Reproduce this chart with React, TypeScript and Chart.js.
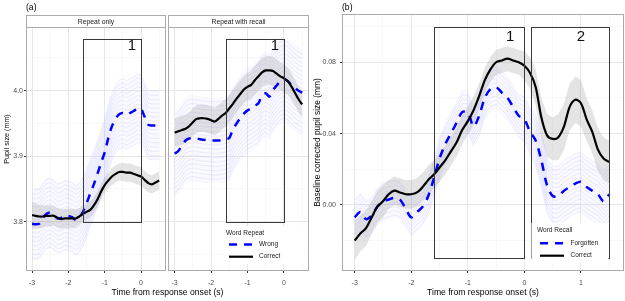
import React, { useEffect, useRef } from "react";
import { Chart, registerables } from "chart.js";
Chart.register(...registerables);

const FONT = "'Liberation Sans', Arial, Helvetica, sans-serif";

// ---------- data ----------
const timeA = [-3.0, -2.9, -2.8, -2.7, -2.6, -2.5, -2.4, -2.3, -2.2, -2.1, -2.0, -1.9, -1.8, -1.7, -1.6, -1.5, -1.4, -1.3, -1.2, -1.1, -1.0, -0.9, -0.8, -0.7, -0.6, -0.5, -0.4, -0.3, -0.2, -0.1, 0.0, 0.1, 0.2, 0.3, 0.4, 0.5];
const timeB = [-3.0, -2.9, -2.8, -2.7, -2.6, -2.5, -2.4, -2.3, -2.2, -2.1, -2.0, -1.9, -1.8, -1.7, -1.6, -1.5, -1.4, -1.3, -1.2, -1.1, -1.0, -0.9, -0.8, -0.7, -0.6, -0.5, -0.4, -0.3, -0.2, -0.1, 0.0, 0.1, 0.2, 0.3, 0.4, 0.5, 0.6, 0.7, 0.8, 0.9, 1.0, 1.1, 1.2, 1.3, 1.4, 1.5];

// Panel (a) "Repeat only"
const repeatOnlyCorrect = [3.810, 3.809, 3.808, 3.808, 3.809, 3.809, 3.809, 3.806, 3.804, 3.805, 3.805, 3.805, 3.805, 3.808, 3.812, 3.815, 3.818, 3.825, 3.834, 3.846, 3.856, 3.863, 3.869, 3.873, 3.876, 3.876, 3.875, 3.875, 3.873, 3.871, 3.869, 3.864, 3.859, 3.857, 3.860, 3.863];
const repeatOnlyCorrectCI = [0.020, 0.019, 0.018, 0.017, 0.016, 0.016, 0.015, 0.015, 0.015, 0.015, 0.015, 0.015, 0.014, 0.013, 0.012, 0.012, 0.012, 0.012, 0.012, 0.012, 0.012, 0.012, 0.013, 0.013, 0.013, 0.014, 0.014, 0.014, 0.014, 0.014, 0.014, 0.014, 0.014, 0.014, 0.014, 0.014];
const repeatOnlyWrong = [3.797, 3.796, 3.797, 3.806, 3.812, 3.814, 3.810, 3.805, 3.806, 3.810, 3.809, 3.807, 3.803, 3.806, 3.815, 3.828, 3.843, 3.857, 3.873, 3.890, 3.906, 3.928, 3.946, 3.957, 3.964, 3.966, 3.963, 3.966, 3.969, 3.973, 3.972, 3.960, 3.948, 3.947, 3.947, 3.947];
const repeatOnlyWrongCI = [0.055, 0.055, 0.055, 0.055, 0.054, 0.054, 0.054, 0.054, 0.054, 0.054, 0.054, 0.054, 0.054, 0.054, 0.054, 0.053, 0.053, 0.053, 0.053, 0.053, 0.053, 0.053, 0.053, 0.053, 0.053, 0.053, 0.053, 0.053, 0.053, 0.053, 0.053, 0.053, 0.053, 0.053, 0.053, 0.053];

// Panel (a) "Repeat with recall"
const recallCorrect = [3.936, 3.938, 3.940, 3.942, 3.946, 3.952, 3.957, 3.958, 3.958, 3.957, 3.955, 3.953, 3.957, 3.962, 3.966, 3.973, 3.980, 3.988, 3.995, 4.002, 4.006, 4.009, 4.016, 4.022, 4.028, 4.031, 4.031, 4.030, 4.026, 4.022, 4.019, 4.015, 4.007, 3.997, 3.987, 3.979];
const recallCorrectCI = [0.022, 0.022, 0.022, 0.021, 0.021, 0.021, 0.021, 0.021, 0.021, 0.021, 0.021, 0.021, 0.021, 0.021, 0.021, 0.021, 0.021, 0.021, 0.021, 0.021, 0.021, 0.022, 0.022, 0.022, 0.022, 0.022, 0.022, 0.022, 0.022, 0.021, 0.021, 0.021, 0.020, 0.020, 0.020, 0.020];
const recallWrong = [3.904, 3.908, 3.916, 3.924, 3.927, 3.928, 3.927, 3.926, 3.925, 3.925, 3.924, 3.924, 3.924, 3.925, 3.926, 3.928, 3.941, 3.950, 3.958, 3.965, 3.970, 3.973, 3.977, 3.981, 3.993, 3.996, 3.991, 4.001, 4.008, 4.015, 4.017, 4.015, 4.009, 4.004, 4.000, 3.997];
const recallWrongCI = [0.065, 0.065, 0.065, 0.065, 0.065, 0.065, 0.065, 0.065, 0.065, 0.065, 0.065, 0.065, 0.065, 0.065, 0.065, 0.065, 0.065, 0.065, 0.065, 0.065, 0.065, 0.065, 0.065, 0.065, 0.065, 0.065, 0.065, 0.065, 0.065, 0.065, 0.065, 0.065, 0.065, 0.065, 0.065, 0.065];

// Panel (b)
const recallCorrectB = [-0.020, -0.016, -0.013, -0.007, -0.001, 0.002, 0.006, 0.008, 0.007, 0.006, 0.006, 0.007, 0.010, 0.014, 0.017, 0.021, 0.025, 0.030, 0.035, 0.042, 0.047, 0.053, 0.061, 0.070, 0.076, 0.080, 0.081, 0.082, 0.081, 0.080, 0.078, 0.074, 0.066, 0.049, 0.039, 0.037, 0.038, 0.044, 0.055, 0.059, 0.057, 0.048, 0.041, 0.031, 0.026, 0.024];
const recallCorrectBCI = [0.011, 0.010, 0.010, 0.009, 0.009, 0.009, 0.008, 0.008, 0.008, 0.008, 0.008, 0.008, 0.008, 0.008, 0.008, 0.008, 0.008, 0.008, 0.008, 0.008, 0.008, 0.008, 0.007, 0.007, 0.007, 0.007, 0.007, 0.007, 0.007, 0.007, 0.008, 0.009, 0.010, 0.011, 0.012, 0.012, 0.013, 0.013, 0.013, 0.013, 0.013, 0.012, 0.012, 0.012, 0.012, 0.012];
const forgottenB = [-0.007, -0.004, -0.008, -0.006, -0.001, 0.002, 0.003, 0.004, 0.003, -0.002, -0.007, -0.004, -0.001, 0.005, 0.015, 0.026, 0.034, 0.040, 0.046, 0.052, 0.052, 0.044, 0.050, 0.060, 0.065, 0.066, 0.063, 0.060, 0.055, 0.050, 0.048, 0.041, 0.036, 0.025, 0.011, 0.005, 0.005, 0.008, 0.010, 0.012, 0.013, 0.010, 0.008, 0.006, 0.002, 0.006];
const forgottenBCI = [0.011, 0.011, 0.011, 0.011, 0.011, 0.011, 0.011, 0.011, 0.011, 0.011, 0.011, 0.011, 0.011, 0.011, 0.011, 0.012, 0.012, 0.012, 0.012, 0.012, 0.012, 0.012, 0.012, 0.012, 0.012, 0.012, 0.012, 0.012, 0.012, 0.012, 0.013, 0.014, 0.015, 0.016, 0.016, 0.017, 0.017, 0.017, 0.017, 0.017, 0.017, 0.017, 0.017, 0.017, 0.017, 0.017];

// axes / ticks
const xTicksA = [-3, -2.5, -2, -1.5, -1, -0.5, 0, 0.5];
const xMajorA = [-3, -2, -1, 0];
const xTicksB = [-3, -2.5, -2, -1.5, -1, -0.5, 0, 0.5, 1, 1.5];
const xMajorB = [-3, -2, -1, 0, 1];
const yTicksA = [3.75, 3.8, 3.85, 3.9, 3.95, 4.0, 4.05];
const yMajorA = [3.8, 3.9, 4.0];
const yTicksB = [-0.02, 0, 0.02, 0.04, 0.06, 0.08, 0.1];
const yMajorB = [0, 0.04, 0.08];

// analysis windows
const windowLabels = ["1", "2"];
const windowStart = [-1.6, 0.11];
const windowEnd = [0, 1.5];
const windowLabelT = [-0.25, 1.0];
const windowLowA = 3.8;
const windowHighA = 4.079;
const windowLabelYA = 4.069;
const windowLowB = -0.03;
const windowHighB = 0.1;
const windowLabelYB = 0.0941;

const stripLabels = ["Repeat only", "Repeat with recall"];
const legendTitleA = "Word Repeat";
const legendTitleB = "Word Recall";
const xTitle = "Time from response onset (s)";
const yTitleA = "Pupil size (mm)";
const yTitleB = "Baseline corrected pupil size (mm)";

// ---------- helpers ----------
const isIn = (arr: number[], v: number) => arr.some((m) => Math.abs(m - v) < 1e-9);

type SeriesDef = {
  label: string;
  mean: number[];
  ci: number[];
  color: string;
  dash: number[];
  width: number;
  ribbon: "hatch" | "grey";
};

const BLUE = "#0000ff";

const decorPlugin: any = {
  id: "decor",
  beforeDatasetsDraw(chart: any, _a: any, opts: any) {
    const { ctx, chartArea } = chart;
    (opts.hatch || []).forEach((h: any) => {
      const up = chart.getDatasetMeta(h.upper).data;
      const lo = chart.getDatasetMeta(h.lower).data;
      const mid = chart.getDatasetMeta(h.mean).data;
      ctx.save();
      ctx.beginPath();
      ctx.rect(chartArea.left, chartArea.top, chartArea.right - chartArea.left, chartArea.bottom - chartArea.top);
      ctx.clip();
      ctx.beginPath();
      up.forEach((p: any, i: number) => (i ? ctx.lineTo(p.x, p.y) : ctx.moveTo(p.x, p.y)));
      for (let i = lo.length - 1; i >= 0; i--) ctx.lineTo(lo[i].x, lo[i].y);
      ctx.closePath();
      ctx.clip();
      let maxOff = 0;
      mid.forEach((p: any, i: number) => {
        maxOff = Math.max(maxOff, Math.abs(up[i].y - p.y), Math.abs(lo[i].y - p.y));
      });
      ctx.strokeStyle = "rgba(120,120,255,0.15)";
      ctx.lineWidth = 1;
      const gap = 4.3;
      const n = Math.ceil(maxOff / gap) + 1;
      for (let k = -n; k <= n; k++) {
        const off = k * gap;
        ctx.beginPath();
        mid.forEach((p: any, i: number) => (i ? ctx.lineTo(p.x, p.y + off) : ctx.moveTo(p.x, p.y + off)));
        ctx.stroke();
      }
      ctx.restore();
    });
  },
  afterDatasetsDraw(chart: any, _a: any, opts: any) {
    const { ctx } = chart;
    const xs = chart.scales.x;
    const ys = chart.scales.y;
    (opts.boxes || []).forEach((b: any) => {
      const x1 = Math.round(xs.getPixelForValue(b.from)) + 0.5;
      const x2 = Math.round(xs.getPixelForValue(b.to)) + 0.5;
      const y1 = Math.round(ys.getPixelForValue(b.high)) + 0.5;
      const y2 = Math.round(ys.getPixelForValue(b.low)) + 0.5;
      ctx.save();
      ctx.strokeStyle = "#3a3a3a";
      ctx.lineWidth = 1;
      ctx.strokeRect(x1, y1, x2 - x1, y2 - y1);
      ctx.fillStyle = "#111";
      ctx.font = `15px ${FONT}`;
      ctx.textAlign = "center";
      ctx.textBaseline = "middle";
      ctx.fillText(b.label, xs.getPixelForValue(b.labelX), ys.getPixelForValue(b.labelY));
      ctx.restore();
    });
  },
  afterDraw(chart: any, _a: any, opts: any) {
    const { ctx, chartArea } = chart;
    ctx.save();
    const lg = opts.legend;
    if (lg) {
      ctx.fillStyle = "#fff";
      ctx.fillRect(lg.x, lg.y, lg.w, lg.h);
      ctx.fillStyle = "#1a1a1a";
      ctx.font = `6.5px ${FONT}`;
      ctx.textAlign = "left";
      ctx.textBaseline = "middle";
      ctx.fillText(lg.title, lg.titleX, lg.titleY);
      lg.items.forEach((dsIndex: number, k: number) => {
        const ds = chart.data.datasets[dsIndex];
        const y = lg.itemY[k];
        ctx.save();
        ctx.strokeStyle = ds.borderColor;
        ctx.lineWidth = ds.borderWidth;
        ctx.setLineDash(ds.borderDash || []);
        ctx.beginPath();
        ctx.moveTo(lg.keyX1, y);
        ctx.lineTo(lg.keyX2, y);
        ctx.stroke();
        ctx.restore();
        ctx.fillStyle = "#1a1a1a";
        ctx.fillText(ds.label, lg.textX, y);
      });
    }
    // panel border
    ctx.strokeStyle = "#ababab";
    ctx.lineWidth = 1;
    ctx.strokeRect(
      Math.round(chartArea.left) - 0.5,
      Math.round(chartArea.top) - 0.5,
      Math.round(chartArea.right - chartArea.left) + 1,
      Math.round(chartArea.bottom - chartArea.top) + 1
    );
    // strip
    if (opts.strip) {
      const s = opts.strip;
      const l = Math.round(chartArea.left) - 0.5;
      const w = Math.round(chartArea.right - chartArea.left) + 1;
      ctx.fillStyle = "#fff";
      ctx.fillRect(l, s.top, w, s.bottom - s.top);
      ctx.strokeRect(l, s.top, w, s.bottom - s.top);
      ctx.fillStyle = "#1a1a1a";
      ctx.font = `6.8px ${FONT}`;
      ctx.textAlign = "center";
      ctx.textBaseline = "middle";
      ctx.fillText(s.text, (chartArea.left + chartArea.right) / 2, (s.top + s.bottom) / 2 + 0.5);
    }
    (opts.texts || []).forEach((t: any) => {
      ctx.save();
      ctx.fillStyle = "#000";
      ctx.font = `${t.size}px ${FONT}`;
      ctx.textAlign = t.align;
      ctx.textBaseline = "middle";
      ctx.translate(t.x, t.y);
      if (t.rotate) ctx.rotate(t.rotate);
      ctx.fillText(t.text, 0, 0);
      ctx.restore();
    });
    ctx.restore();
  },
};

type PanelSpec = {
  time: number[];
  series: SeriesDef[];
  xMin: number;
  xMax: number;
  yMin: number;
  yMax: number;
  xTicks: number[];
  xMajor: number[];
  yTicks: number[];
  yMajor: number[];
  yDecimals: number;
  padding: { left: number; right: number; top: number; bottom: number };
  yWidth: number;
  showYLabels: boolean;
  yTitle?: string;
  yTitlePad?: number;
  yTickPad?: number;
  xTitle?: string;
  decor: any;
};

function buildConfig(p: PanelSpec): any {
  const n = p.series.length;
  const datasets: any[] = [];
  const hatch: any[] = [];
  p.series.forEach((s, k) => {
    datasets.push({
      label: s.label + " upper",
      data: p.time.map((t, i) => ({ x: t, y: s.mean[i] + s.ci[i] })),
      borderWidth: 0,
      pointRadius: 0,
      fill: false,
      tension: 0,
      order: s.ribbon === "hatch" ? 4 : 3,
    });
    datasets.push({
      label: s.label + " lower",
      data: p.time.map((t, i) => ({ x: t, y: s.mean[i] - s.ci[i] })),
      borderWidth: 0,
      pointRadius: 0,
      fill: "-1",
      backgroundColor: s.ribbon === "hatch" ? "rgba(220,220,255,0.18)" : "rgba(150,150,150,0.26)",
      tension: 0,
      order: s.ribbon === "hatch" ? 4 : 3,
    });
    if (s.ribbon === "hatch") hatch.push({ upper: 2 * k, lower: 2 * k + 1, mean: 2 * n + k });
  });
  p.series.forEach((s) => {
    datasets.push({
      label: s.label,
      data: p.time.map((t, i) => ({ x: t, y: s.mean[i] })),
      borderColor: s.color,
      borderWidth: s.width,
      borderDash: s.dash,
      borderCapStyle: "butt",
      borderJoinStyle: "round",
      pointRadius: 0,
      fill: false,
      tension: 0.3,
      order: s.ribbon === "hatch" ? 1 : 0,
    });
  });

  const gridOf = (majors: number[]) => ({
    color: (c: any) => (c.tick && isIn(majors, c.tick.value) ? "#e6e6e6" : "#f3f3f3"),
    lineWidth: (c: any) => (c.tick && isIn(majors, c.tick.value) ? 1 : 0.6),
    tickColor: (c: any) => (c.tick && isIn(majors, c.tick.value) ? "#333333" : "rgba(0,0,0,0)"),
    tickLength: 3,
    tickWidth: 1,
  });

  return {
    type: "line",
    data: { datasets },
    plugins: [decorPlugin],
    options: {
      animation: false,
      responsive: false,
      devicePixelRatio: 1,
      events: [],
      layout: { padding: p.padding },
      plugins: {
        legend: { display: false },
        tooltip: { enabled: false },
        decor: { ...p.decor, hatch },
      },
      scales: {
        x: {
          type: "linear",
          min: p.xMin,
          max: p.xMax,
          afterBuildTicks: (s: any) => {
            s.ticks = p.xTicks.map((v) => ({ value: v }));
          },
          afterFit: (s: any) => {
            s.height = 31;
          },
          border: { display: false },
          grid: gridOf(p.xMajor),
          ticks: {
            autoSkip: false,
            maxRotation: 0,
            color: "#4d4d4d",
            padding: 6,
            font: { family: FONT, size: 7 },
            callback: (v: any) => (isIn(p.xMajor, v) ? String(Math.round(v)) : ""),
          },
          title: p.xTitle
            ? { display: true, text: p.xTitle, color: "#000", font: { family: FONT, size: 8.6 }, padding: { top: 0, bottom: 3 } }
            : { display: false },
        },
        y: {
          type: "linear",
          min: p.yMin,
          max: p.yMax,
          afterBuildTicks: (s: any) => {
            s.ticks = p.yTicks.map((v) => ({ value: v }));
          },
          afterFit: (s: any) => {
            s.width = p.yWidth;
          },
          border: { display: false },
          grid: p.showYLabels ? gridOf(p.yMajor) : { ...gridOf(p.yMajor), drawTicks: false },
          ticks: {
            display: p.showYLabels,
            autoSkip: false,
            color: "#4d4d4d",
            padding: p.yTickPad ?? 1,
            font: { family: FONT, size: 7 },
            callback: (v: any) => (isIn(p.yMajor, v) ? Number(v).toFixed(p.yDecimals) : ""),
          },
          title: p.yTitle
            ? { display: true, text: p.yTitle, color: "#000", font: { family: FONT, size: 8.4 }, padding: { top: p.yTitlePad ?? 2, bottom: 0 } }
            : { display: false },
        },
      },
    },
  };
}

const wrongStyle = { color: BLUE, dash: [8, 7], width: 2.5, ribbon: "hatch" as const };
const correctStyle = { color: "#000000", dash: [] as number[], width: 2.2, ribbon: "grey" as const };

const yRangeA = { yMin: 3.7263, yMax: 4.0973 };

function configA1() {
  return buildConfig({
    time: timeA,
    series: [
      { label: "Wrong", mean: repeatOnlyWrong, ci: repeatOnlyWrongCI, ...wrongStyle },
      { label: "Correct", mean: repeatOnlyCorrect, ci: repeatOnlyCorrectCI, ...correctStyle },
    ],
    xMin: -3.14,
    xMax: 0.66,
    ...yRangeA,
    xTicks: xTicksA,
    xMajor: xMajorA,
    yTicks: yTicksA,
    yMajor: yMajorA,
    yDecimals: 1,
    padding: { left: 0, right: 460, top: 27, bottom: 0 },
    yWidth: 27,
    showYLabels: true,
    yTickPad: 1,
    decor: {
      boxes: [{ from: windowStart[0], to: windowEnd[0], low: windowLowA, high: windowHighA, label: windowLabels[0], labelX: windowLabelT[0], labelY: windowLabelYA }],
      strip: { text: stripLabels[0], top: 15.5, bottom: 27.5 },
      texts: [
        { text: "(a)", x: 26, y: 7.5, size: 8.6, align: "left" },
        { text: xTitle, x: 167.5, y: 293, size: 8.6, align: "center" },
        { text: yTitleA, x: 7, y: 139, size: 7.2, align: "center", rotate: -Math.PI / 2 },
      ],
    },
  });
}

function configA2() {
  return buildConfig({
    time: timeA,
    series: [
      { label: "Wrong", mean: recallWrong, ci: recallWrongCI, ...wrongStyle },
      { label: "Correct", mean: recallCorrect, ci: recallCorrectCI, ...correctStyle },
    ],
    xMin: -3.155,
    xMax: 0.66,
    ...yRangeA,
    xTicks: xTicksA,
    xMajor: xMajorA,
    yTicks: yTicksA,
    yMajor: yMajorA,
    yDecimals: 1,
    padding: { left: 169, right: 317, top: 27, bottom: 0 },
    yWidth: 0,
    showYLabels: false,
    decor: {
      boxes: [{ from: windowStart[0], to: windowEnd[0], low: windowLowA, high: windowHighA, label: windowLabels[0], labelX: windowLabelT[0], labelY: windowLabelYA }],
      strip: { text: stripLabels[1], top: 15.5, bottom: 27.5 },
      legend: {
        x: 222, y: 226, w: 83, h: 38,
        title: legendTitleA, titleX: 226, titleY: 233,
        items: [4, 5], itemY: [244.5, 256.7],
        keyX1: 229, keyX2: 253, textX: 259,
      },
    },
  });
}

function configB() {
  return buildConfig({
    time: timeB,
    series: [
      { label: "Forgotten", mean: forgottenB, ci: forgottenBCI, ...wrongStyle },
      { label: "Correct", mean: recallCorrectB, ci: recallCorrectBCI, ...correctStyle },
    ],
    xMin: -3.207,
    xMax: 1.743,
    yMin: -0.0365,
    yMax: 0.1065,
    xTicks: xTicksB,
    xMajor: xMajorB,
    yTicks: yTicksB,
    yMajor: yMajorB,
    yDecimals: 2,
    padding: { left: 310, right: 2, top: 15, bottom: 0 },
    yWidth: 33,
    showYLabels: true,
    yTitle: yTitleB,
    yTitlePad: 3,
    yTickPad: 4,
    xTitle: xTitle,
    decor: {
      boxes: [
        { from: windowStart[0], to: windowEnd[0], low: windowLowB, high: windowHighB, label: windowLabels[0], labelX: windowLabelT[0], labelY: windowLabelYB },
        { from: windowStart[1], to: windowEnd[1], low: windowLowB, high: windowHighB, label: windowLabels[1], labelX: windowLabelT[1], labelY: windowLabelYB },
      ],
      legend: {
        x: 531.5, y: 223, w: 77, h: 40,
        title: legendTitleB, titleX: 537, titleY: 230.7,
        items: [4, 5], itemY: [243.3, 255.7],
        keyX1: 540, keyX2: 564, textX: 570.5,
      },
      texts: [{ text: "(b)", x: 342, y: 7.5, size: 8.6, align: "left" }],
    },
  });
}

function ChartCanvas({ make }: { make: () => any }) {
  const ref = useRef<HTMLCanvasElement>(null);
  useEffect(() => {
    const chart = new Chart(ref.current as HTMLCanvasElement, make());
    return () => chart.destroy();
  }, [make]);
  return (
    <canvas
      ref={ref}
      width={625}
      height={301}
      style={{ position: "absolute", left: 0, top: 0, width: 625, height: 301 }}
    />
  );
}

export default function App() {
  return (
    <div style={{ position: "fixed", left: 0, top: 0, width: 625, height: 301, background: "#ffffff", overflow: "hidden" }}>
      <ChartCanvas make={configA1} />
      <ChartCanvas make={configA2} />
      <ChartCanvas make={configB} />
    </div>
  );
}
